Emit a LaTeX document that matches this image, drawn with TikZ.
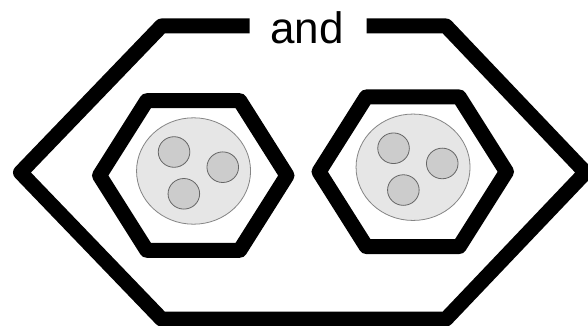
\documentclass[tikz,border=0pt]{standalone}
\usepackage{fontspec}
\setmainfont{Liberation Sans}
\definecolor{discfill}{HTML}{E6E6E6}
\definecolor{discedge}{HTML}{858585}
\definecolor{dotfill}{HTML}{CCCCCC}
\definecolor{dotedge}{HTML}{666666}
\begin{document}
\begin{tikzpicture}[x=1pt,y=-1pt,
  hexline/.style={line width=15pt,line join=round,line cap=butt},
  disc/.style={fill=discfill,draw=discedge,line width=0.8pt},
  dot/.style={fill=dotfill,draw=dotedge,line width=0.8pt},
  cell/.pic={
    \draw[hexline] (-93.75,0) -- (-46.5,-74.8) -- (46.5,-74.8) -- (93.75,0)
      -- (46.5,74.8) -- (-46.5,74.8) -- cycle;
    \draw[disc] (0.3,-4.5) ellipse [x radius=57pt, y radius=53.2pt];
    \draw[dot] (-19.2,-23.5) ellipse [x radius=15.8pt, y radius=15.3pt];
    \draw[dot] (29.5,-8.3) ellipse [x radius=15.8pt, y radius=15.3pt];
    \draw[dot] (-9.4,18.3) ellipse [x radius=15.8pt, y radius=15.3pt];
  }]
\useasboundingbox (0,0) rectangle (588,326);
\fill[white] (0,0) rectangle (588,326);
\coordinate (gapL) at (249.5,26);
\coordinate (gapR) at (366.5,26);
\draw[hexline] (gapL) -- (161.5,26) -- (20.5,172.5) -- (161.5,319) -- (446,319)
  -- (585.5,172.5) -- (446,26) -- (gapR);
\node[anchor=base,inner sep=0pt,font=\fontsize{44}{44}\selectfont] (andlabel) at (307,44) {and};
\pic (cellA) at (193.25,175.5) {cell};
\pic (cellB) at (412.75,171.75) {cell};
\end{tikzpicture}
\end{document}
